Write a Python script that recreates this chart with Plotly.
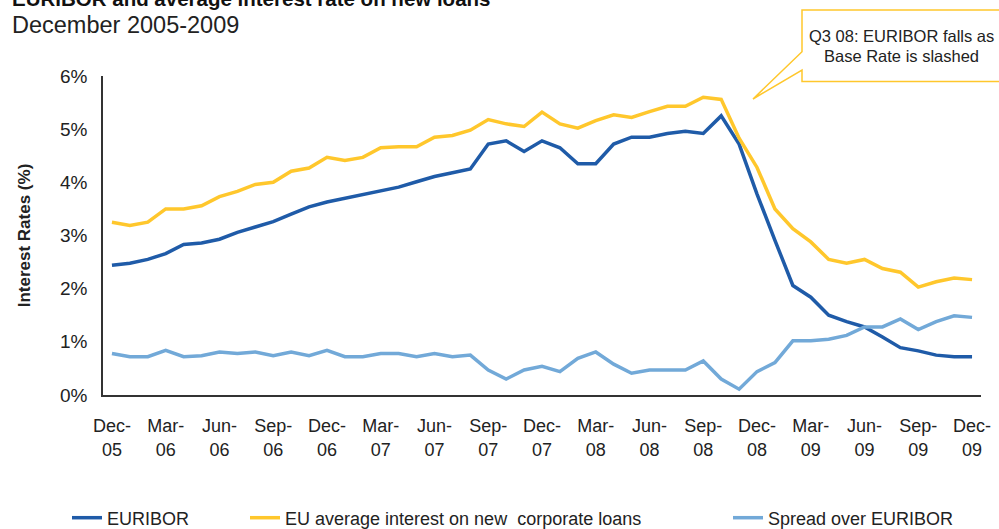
import pandas as pd
import plotly.graph_objects as go

months = list(pd.date_range("2005-12-01", "2009-12-01", freq="MS").strftime("%b-%y"))

euribor = [2.44, 2.48, 2.55, 2.66, 2.83, 2.86, 2.93, 3.06, 3.16, 3.26,
           3.40, 3.54, 3.63, 3.70, 3.77, 3.84, 3.91, 4.01, 4.11, 4.18,
           4.25, 4.72, 4.78, 4.58, 4.78, 4.65, 4.35, 4.35, 4.72, 4.85,
           4.85, 4.92, 4.96, 4.92, 5.25, 4.72, 3.78, 2.91, 2.06, 1.84,
           1.50, 1.38, 1.28, 1.09, 0.89, 0.83, 0.75, 0.72, 0.72]
eu_loans = [3.25, 3.19, 3.25, 3.50, 3.50, 3.56, 3.73, 3.83, 3.96, 4.00,
            4.21, 4.27, 4.47, 4.41, 4.47, 4.65, 4.67, 4.67, 4.85, 4.88,
            4.98, 5.18, 5.10, 5.05, 5.32, 5.10, 5.02, 5.16, 5.27, 5.22,
            5.33, 5.43, 5.43, 5.60, 5.56, 4.83, 4.28, 3.50, 3.13, 2.88,
            2.55, 2.48, 2.55, 2.38, 2.31, 2.03, 2.13, 2.20, 2.17]
spread = [0.78, 0.72, 0.72, 0.84, 0.72, 0.74, 0.81, 0.78, 0.81, 0.74,
          0.81, 0.74, 0.84, 0.72, 0.72, 0.78, 0.78, 0.72, 0.78, 0.72,
          0.75, 0.47, 0.30, 0.47, 0.54, 0.44, 0.69, 0.81, 0.58, 0.41,
          0.47, 0.47, 0.47, 0.64, 0.30, 0.11, 0.44, 0.61, 1.02, 1.02,
          1.05, 1.12, 1.28, 1.28, 1.43, 1.23, 1.38, 1.49, 1.46]

tick_vals = months[::3]
tick_text = [m.replace("-", "-<br>") for m in tick_vals]
y_ticks = [0, 1, 2, 3, 4, 5, 6]
y_ticktext = [f"{v}%" for v in y_ticks]

C_EUR = "#1F5BA8"
C_LOAN = "#FFC72C"
C_SPR = "#72A9D8"
FONT = "Liberation Sans, Arial, sans-serif"

fig = go.Figure()
fig.add_trace(go.Scatter(x=months, y=euribor, mode="lines", name="EURIBOR",
                         line=dict(color=C_EUR, width=3.5), legend="legend"))
fig.add_trace(go.Scatter(x=months, y=eu_loans, mode="lines",
                         name="EU average interest on new  corporate loans",
                         line=dict(color=C_LOAN, width=3.5), legend="legend2"))
fig.add_trace(go.Scatter(x=months, y=spread, mode="lines", name="Spread over EURIBOR",
                         line=dict(color=C_SPR, width=3.5), legend="legend3"))

FW, FH = 999, 529
W, H = 878, 319
L, T = 103, 76
def px(x):
    return (x - L) / W
def py(y):
    return (T + H - y) / H
def cx(x):
    return x / FW
def cy(y):
    return 1 - y / FH

leg_common = dict(orientation="h", yanchor="middle", xanchor="left",
                  xref="container", yref="container",
                  font=dict(size=18, color="#222", family=FONT),
                  bgcolor="rgba(0,0,0,0)", borderwidth=0)

fig.update_layout(
    width=FW, height=FH,
    margin=dict(l=L, r=FW - L - W, t=T, b=FH - T - H, autoexpand=False),
    paper_bgcolor="white", plot_bgcolor="white",
    font=dict(family=FONT, color="#222"),
    showlegend=True,
    legend=dict(x=cx(67), y=cy(518), **leg_common),
    legend2=dict(x=cx(245), y=cy(518), **leg_common),
    legend3=dict(x=cx(728), y=cy(518), **leg_common),
    xaxis=dict(type="category", range=[-0.5, len(months) - 0.5], automargin=False,
               tickmode="array", tickvals=tick_vals, ticktext=tick_text,
               showline=True, linecolor="#333", linewidth=1.5,
               ticks="outside", ticklen=14, tickcolor="rgba(0,0,0,0)",
               showgrid=False, zeroline=False,
               tickfont=dict(size=18, color="#222", family=FONT)),
    yaxis=dict(range=[0, 6], tickmode="array", tickvals=y_ticks, ticktext=y_ticktext,
               automargin=False,
               showline=True, linecolor="#333", linewidth=1.5,
               ticks="outside", ticklen=10, tickcolor="rgba(0,0,0,0)",
               showgrid=False, zeroline=False,
               tickfont=dict(size=19, color="#222", family=FONT),
               title=dict(text="<b>Interest Rates (%)</b>", standoff=25,
                          font=dict(size=17, color="#222", family=FONT))),
)

# callout shape
path = (f"M {px(802)},{py(10)} L {px(1010)},{py(10)} L {px(1010)},{py(81.5)} "
        f"L {px(802)},{py(81.5)} L {px(802)},{py(70)} L {px(753)},{py(99)} "
        f"L {px(802)},{py(51.7)} Z")
fig.add_shape(type="path", xref="paper", yref="paper", path=path,
              fillcolor="white", line=dict(color=C_LOAN, width=1.5), layer="above")

fig.add_annotation(xref="paper", yref="paper", x=px(901), y=py(36), text="Q3 08: EURIBOR falls as",
                   showarrow=False, xanchor="center", yanchor="middle",
                   font=dict(size=16.5, color="#222", family=FONT))
fig.add_annotation(xref="paper", yref="paper", x=px(901), y=py(56), text="Base Rate is slashed",
                   showarrow=False, xanchor="center", yanchor="middle",
                   font=dict(size=16.5, color="#222", family=FONT))

# titles
fig.add_annotation(xref="paper", yref="paper", x=px(10), y=py(-1),
                   text="<b>EURIBOR and average interest rate on new loans</b>",
                   showarrow=False, xanchor="left", yanchor="middle",
                   font=dict(size=20.5, color="#111", family=FONT))
fig.add_annotation(xref="paper", yref="paper", x=px(10), y=py(25),
                   text="December 2005-2009",
                   showarrow=False, xanchor="left", yanchor="middle",
                   font=dict(size=23.5, color="#222", family=FONT))

fig.write_html("out.html", config={"displayModeBar": False},
               post_script="document.body.style.margin='0';document.body.style.overflow='hidden';")
